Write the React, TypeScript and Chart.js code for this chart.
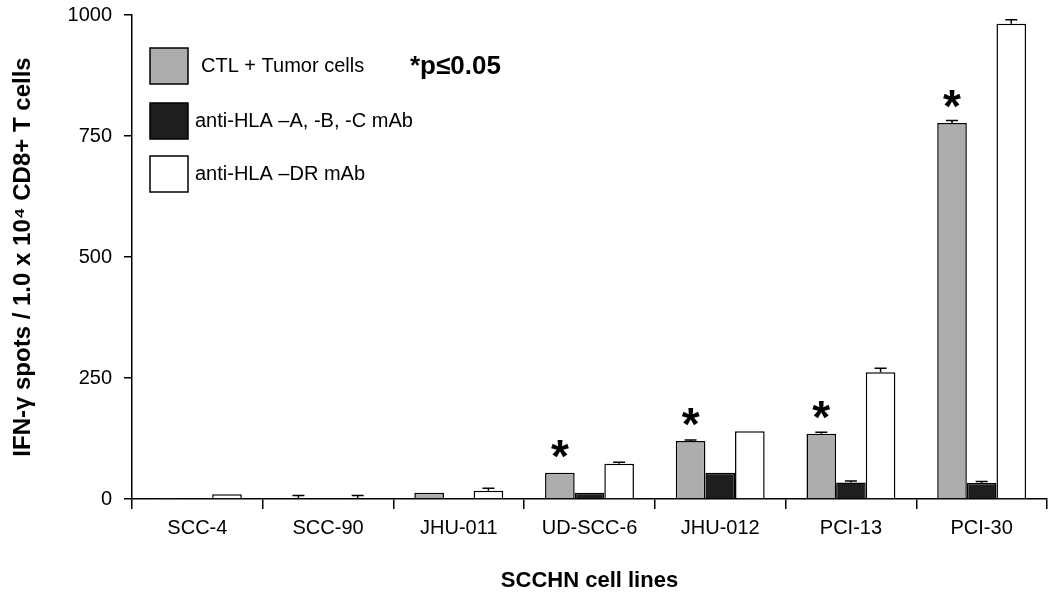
import React, { useEffect, useRef } from "react";
import { Chart, registerables } from "chart.js";

Chart.register(...registerables);

const categories = ["SCC-4", "SCC-90", "JHU-011", "UD-SCC-6", "JHU-012", "PCI-13", "PCI-30"];
const seriesNames = ["CTL + Tumor cells", "anti-HLA \u2013A, -B, -C mAb", "anti-HLA \u2013DR mAb"];
const ctlValues = [1, 2, 13, 54, 120, 135, 777];
const ctlErrors = [0, 5, 0, 0, 2, 3, 5];
const hlaABCValues = [0, 0, 1, 13, 54, 34, 33];
const hlaABCErrors = [0, 0, 0, 0, 0, 3, 3];
const hlaDRValues = [10, 2, 17, 73, 140, 262, 982];
const hlaDRErrors = [0, 5, 5, 3, 0, 8, 8];
const significant = [false, false, false, true, true, true, true];
const yTicks = [0, 250, 500, 750, 1000];
const xTitle = "SCCHN cell lines";
const yTitle = "IFN-\u03b3 spots / 1.0 x 10\u2074 CD8+ T cells";
const pNote = "*p\u22640.05";

const FONT = "'Liberation Sans', Arial, Helvetica, sans-serif";
const fills = ["#adadad", "#1e1e1e", "#ffffff"];
const errorSets = [ctlErrors, hlaABCErrors, hlaDRErrors];

const errorBarPlugin = {
  id: "errorBars",
  afterDatasetsDraw(chart: any) {
    const ctx = chart.ctx;
    const yScale = chart.scales.y;
    ctx.save();
    ctx.strokeStyle = "#000";
    ctx.lineWidth = 1.5;
    chart.data.datasets.forEach((ds: any, i: number) => {
      const meta = chart.getDatasetMeta(i);
      meta.data.forEach((el: any, j: number) => {
        const err = errorSets[i][j];
        if (!err) return;
        const v = ds.data[j];
        const yTop = yScale.getPixelForValue(v);
        const yErr = yScale.getPixelForValue(v + err);
        ctx.beginPath();
        ctx.moveTo(el.x, yTop);
        ctx.lineTo(el.x, yErr);
        ctx.moveTo(el.x - 6, yErr);
        ctx.lineTo(el.x + 6, yErr);
        ctx.stroke();
      });
    });
    ctx.restore();
  },
};

const asteriskPlugin = {
  id: "asterisks",
  afterDatasetsDraw(chart: any) {
    const ctx = chart.ctx;
    const meta = chart.getDatasetMeta(0);
    ctx.save();
    ctx.fillStyle = "#000";
    ctx.font = `bold 46px ${FONT}`;
    ctx.textAlign = "center";
    ctx.textBaseline = "alphabetic";
    const m = ctx.measureText("*");
    const asc = m.actualBoundingBoxAscent;
    const desc = m.actualBoundingBoxDescent;
    meta.data.forEach((el: any, j: number) => {
      if (!significant[j]) return;
      const cy = el.y - 24;
      ctx.fillText("*", el.x, cy + (asc - desc) / 2);
    });
    ctx.restore();
  },
};

const legendPlugin = {
  id: "customLegend",
  afterDraw(chart: any) {
    const ctx = chart.ctx;
    const area = chart.chartArea;
    const bx = area.left + 18;
    const tops = [area.top + 33, area.top + 88, area.top + 141];
    const textX = [area.left + 69, area.left + 63, area.left + 63];
    ctx.save();
    ctx.font = `20px ${FONT}`;
    ctx.textBaseline = "middle";
    ctx.textAlign = "left";
    seriesNames.forEach((name, i) => {
      ctx.fillStyle = fills[i];
      ctx.fillRect(bx, tops[i], 38, 36);
      ctx.strokeStyle = "#000";
      ctx.lineWidth = 1.5;
      ctx.strokeRect(bx, tops[i], 38, 36);
      ctx.fillStyle = "#000";
      ctx.fillText(name, textX[i], tops[i] + 18);
    });
    ctx.font = `bold 26px ${FONT}`;
    ctx.fillText(pNote, area.left + 278, tops[0] + 19);
    ctx.restore();
  },
};

export default function App() {
  const ref = useRef<HTMLCanvasElement | null>(null);

  useEffect(() => {
    if (!ref.current) return;
    const chart = new Chart(ref.current, {
      type: "bar",
      data: {
        labels: categories,
        datasets: [
          { label: seriesNames[0], data: ctlValues, backgroundColor: fills[0], borderColor: "#000", borderWidth: 1.5 },
          { label: seriesNames[1], data: hlaABCValues, backgroundColor: fills[1], borderColor: "#000", borderWidth: 1.5 },
          { label: seriesNames[2], data: hlaDRValues, backgroundColor: fills[2], borderColor: "#000", borderWidth: 1.5 },
        ],
      },
      options: {
        responsive: false,
        animation: false,
        events: [],
        layout: { padding: { top: 15, right: 3, left: 0, bottom: 0 } },
        datasets: { bar: { categoryPercentage: 0.68, barPercentage: 1 } },
        plugins: { legend: { display: false }, tooltip: { enabled: false } },
        scales: {
          x: {
            offset: true,
            grid: { display: true, offset: true, drawOnChartArea: false, drawTicks: true, tickLength: 10, color: "#000", lineWidth: 1.5 },
            border: { display: true, color: "#000", width: 1.5 },
            ticks: { color: "#000", font: { family: FONT, size: 20 }, padding: 7, maxRotation: 0 },
            title: { display: true, text: xTitle, color: "#000", font: { family: FONT, size: 22, weight: "bold" }, padding: { top: 0, bottom: 6 } },
            afterFit: (s: any) => { s.height = 101; s.paddingLeft = 0; s.paddingRight = 0; },
          },
          y: {
            min: 0,
            max: 1000,
            afterBuildTicks: (s: any) => { s.ticks = yTicks.map((v) => ({ value: v })); },
            grid: { display: true, drawOnChartArea: false, drawTicks: true, tickLength: 8, color: "#000", lineWidth: 1.5 },
            border: { display: true, color: "#000", width: 1.5 },
            ticks: { color: "#000", font: { family: FONT, size: 20 }, padding: 12, callback: (v: any) => String(v) },
            title: { display: true, text: yTitle, color: "#000", font: { family: FONT, size: 24, weight: "bold" }, padding: { top: 9, bottom: 0 } },
            afterFit: (s: any) => { s.width = 132; s.paddingTop = 0; s.paddingBottom = 0; },
          },
        },
      },
      plugins: [errorBarPlugin, asteriskPlugin, legendPlugin],
    } as any);
    return () => chart.destroy();
  }, []);

  return (
    <div style={{ position: "absolute", left: 0, top: 0, width: 1050, height: 600, background: "#fff" }}>
      <canvas ref={ref} width={1050} height={600} style={{ display: "block" }} />
    </div>
  );
}
